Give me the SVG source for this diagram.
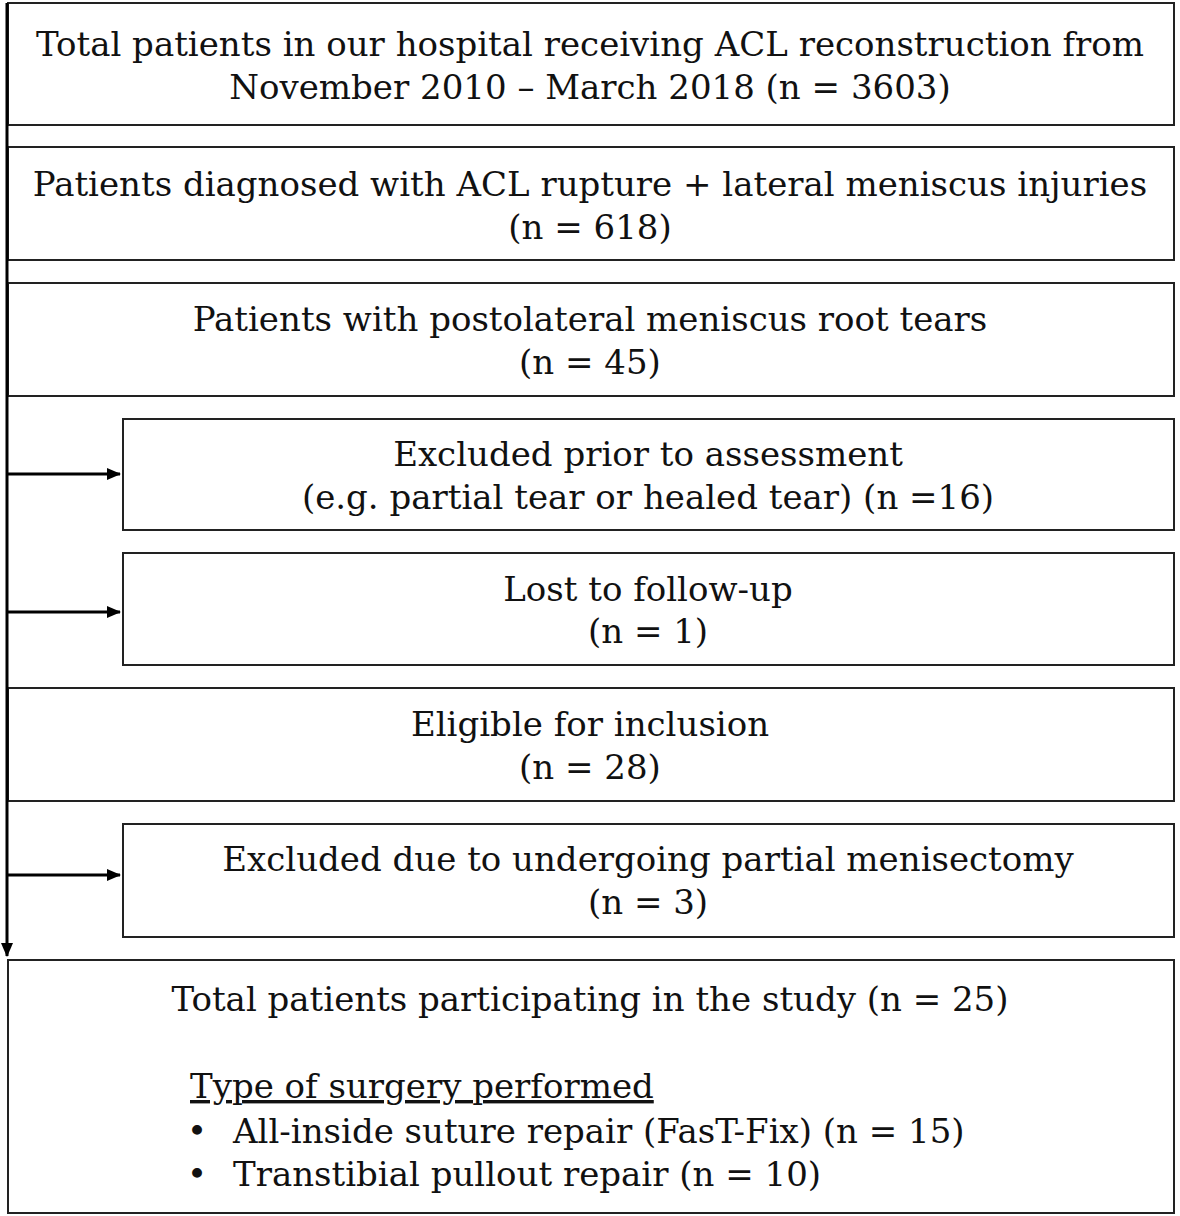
<svg xmlns="http://www.w3.org/2000/svg" width="1180" height="1216" viewBox="0 0 1180 1216">
<style>
.box{fill:#fff;stroke:#222;stroke-width:2}
.t{font-family:"DejaVu Serif","Liberation Serif",serif;font-size:34px;fill:#111}
.c{text-anchor:middle}
.conn{stroke:#000;stroke-width:3;fill:none}
</style>
<defs>
<marker id="ah" viewBox="0 0 14 12" refX="13" refY="6" markerWidth="14" markerHeight="12" orient="auto" markerUnits="userSpaceOnUse">
<path d="M0,0 L14,6 L0,12 z" fill="#000"/>
</marker>
</defs>
<rect width="1180" height="1216" fill="#fff"/>
<g id="n1"><rect class="box" x="8" y="3" width="1166" height="122"/>
<text class="t c" x="590" y="56">Total patients in our hospital receiving ACL reconstruction from</text>
<text class="t c" x="590" y="99">November 2010 – March 2018 (n = 3603)</text></g>
<g id="n2"><rect class="box" x="8" y="147" width="1166" height="113"/>
<text class="t c" x="590" y="196">Patients diagnosed with ACL rupture + lateral meniscus injuries</text>
<text class="t c" x="590" y="239">(n = 618)</text></g>
<g id="n3"><rect class="box" x="8" y="283" width="1166" height="113"/>
<text class="t c" x="590" y="331">Patients with postolateral meniscus root tears</text>
<text class="t c" x="590" y="374">(n = 45)</text></g>
<g id="n4"><rect class="box" x="123" y="419" width="1051" height="111"/>
<text class="t c" x="648" y="466">Excluded prior to assessment</text>
<text class="t c" x="648" y="509">(e.g. partial tear or healed tear) (n =16)</text></g>
<g id="n5"><rect class="box" x="123" y="553" width="1051" height="112"/>
<text class="t c" x="648" y="601">Lost to follow-up</text>
<text class="t c" x="648" y="643">(n = 1)</text></g>
<g id="n6"><rect class="box" x="8" y="688" width="1166" height="113"/>
<text class="t c" x="590" y="736">Eligible for inclusion</text>
<text class="t c" x="590" y="779">(n = 28)</text></g>
<g id="n7"><rect class="box" x="123" y="824" width="1051" height="113"/>
<text class="t c" x="648" y="871">Excluded due to undergoing partial menisectomy</text>
<text class="t c" x="648" y="914">(n = 3)</text></g>
<g id="n8"><rect class="box" x="8" y="960" width="1166" height="253"/>
<text class="t c" x="590" y="1011">Total patients participating in the study (n = 25)</text>
<text class="t" x="190" y="1098" text-decoration="underline">Type of surgery performed</text>
<text class="t" x="187" y="1143">•</text>
<text class="t" x="233" y="1143">All-inside suture repair (FasT-Fix) (n = 15)</text>
<text class="t" x="187" y="1186">•</text>
<text class="t" x="233" y="1186">Transtibial pullout repair (n = 10)</text></g>
<g id="connectors">
<line class="conn" x1="7" y1="3" x2="7" y2="956" marker-end="url(#ah)"/>
<line class="conn" x1="7" y1="474" x2="120" y2="474" marker-end="url(#ah)"/>
<line class="conn" x1="7" y1="612" x2="120" y2="612" marker-end="url(#ah)"/>
<line class="conn" x1="7" y1="875" x2="120" y2="875" marker-end="url(#ah)"/>
</g>
</svg>
